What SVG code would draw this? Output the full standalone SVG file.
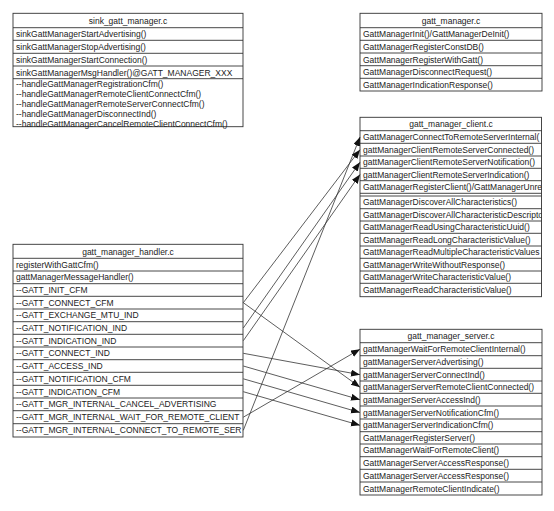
<svg xmlns="http://www.w3.org/2000/svg" width="554" height="511" viewBox="0 0 554 511">
<style>
.box{fill:#fff;stroke:#333;stroke-width:0.9}
.sep{stroke:#333;stroke-width:0.9}
text{font-family:"Liberation Sans",Arial,sans-serif;font-size:8.5px;fill:#222}
.t{text-anchor:middle}
.c{stroke:#333;stroke-width:0.8;fill:none;marker-end:url(#arr)}
</style>
<defs>
<marker id="arr" markerUnits="userSpaceOnUse" markerWidth="10" markerHeight="8" refX="9" refY="3.5" orient="auto">
<path d="M0,0 L9,3.5 L0,7 z" fill="#111"/>
</marker>
<clipPath id="clipClient"><rect x="360" y="117" width="181.5" height="180"/></clipPath>
<clipPath id="clipHandler"><rect x="13" y="244" width="229.5" height="193"/></clipPath>
</defs>
<rect width="554" height="511" fill="#fff"/>

<g id="sink_gatt_manager">
<rect class="box" x="13" y="13.3" width="230" height="113.4"/>
<line class="sep" x1="13" y1="27.7" x2="243" y2="27.7"/>
<line class="sep" x1="13" y1="40.3" x2="243" y2="40.3"/>
<line class="sep" x1="13" y1="53.3" x2="243" y2="53.3"/>
<line class="sep" x1="13" y1="66" x2="243" y2="66"/>
<line class="sep" x1="13" y1="78.7" x2="243" y2="78.7"/>
<text class="t" x="128" y="23.8">sink_gatt_manager.c</text>
<text x="16" y="37.2">sinkGattManagerStartAdvertising()</text>
<text x="16" y="50">sinkGattManagerStopAdvertising()</text>
<text x="16" y="62.8">sinkGattManagerStartConnection()</text>
<text x="16" y="75.5">sinkGattManagerMsgHandler()@GATT_MANAGER_XXX</text>
<text x="16" y="87">--handleGattManagerRegistrationCfm()</text>
<text x="16" y="97">--handleGattManagerRemoteClientConnectCfm()</text>
<text x="16" y="107">--handleGattManagerRemoteServerConnectCfm()</text>
<text x="16" y="117">--handleGattManagerDisconnectInd()</text>
<text x="16" y="127">--handleGattManagerCancelRemoteClientConnectCfm()</text>
</g>

<g id="gatt_manager">
<rect class="box" x="360" y="13.3" width="182" height="77.7"/>
<line class="sep" x1="360" y1="27.7" x2="542" y2="27.7"/>
<line class="sep" x1="360" y1="40.3" x2="542" y2="40.3"/>
<line class="sep" x1="360" y1="53" x2="542" y2="53"/>
<line class="sep" x1="360" y1="65.7" x2="542" y2="65.7"/>
<line class="sep" x1="360" y1="78.3" x2="542" y2="78.3"/>
<text class="t" x="451" y="23.8">gatt_manager.c</text>
<text x="363" y="37.2">GattManagerInit()/GattManagerDeInit()</text>
<text x="363" y="49.8">GattManagerRegisterConstDB()</text>
<text x="363" y="62.5">GattManagerRegisterWithGatt()</text>
<text x="363" y="75.1">GattManagerDisconnectRequest()</text>
<text x="363" y="87.8">GattManagerIndicationResponse()</text>
</g>

<g id="gatt_manager_client">
<rect class="box" x="360" y="117.3" width="181.5" height="179.4"/>
<line class="sep" x1="360" y1="130.7" x2="541.5" y2="130.7"/>
<line class="sep" x1="360" y1="143.3" x2="541.5" y2="143.3"/>
<line class="sep" x1="360" y1="156" x2="541.5" y2="156"/>
<line class="sep" x1="360" y1="168.3" x2="541.5" y2="168.3"/>
<line class="sep" x1="360" y1="180.7" x2="541.5" y2="180.7"/>
<line class="sep" x1="360" y1="193.3" x2="541.5" y2="193.3"/>
<line class="sep" x1="360" y1="196" x2="541.5" y2="196"/>
<line class="sep" x1="360" y1="208.7" x2="541.5" y2="208.7"/>
<line class="sep" x1="360" y1="221" x2="541.5" y2="221"/>
<line class="sep" x1="360" y1="233.3" x2="541.5" y2="233.3"/>
<line class="sep" x1="360" y1="246" x2="541.5" y2="246"/>
<line class="sep" x1="360" y1="258.3" x2="541.5" y2="258.3"/>
<line class="sep" x1="360" y1="271" x2="541.5" y2="271"/>
<line class="sep" x1="360" y1="283.3" x2="541.5" y2="283.3"/>
<g clip-path="url(#clipClient)">
<text class="t" x="451" y="127.3">gatt_manager_client.c</text>
<text x="363" y="140">GattManagerConnectToRemoteServerInternal(</text>
<text x="363" y="152.7">gattManagerClientRemoteServerConnected()</text>
<text x="363" y="165.2">gattManagerClientRemoteServerNotification()</text>
<text x="363" y="177.5">gattManagerClientRemoteServerIndication()</text>
<text x="363" y="190">GattManagerRegisterClient()/GattManagerUnre</text>
<text x="363" y="205.4">GattManagerDiscoverAllCharacteristics()</text>
<text x="363" y="217.9">GattManagerDiscoverAllCharacteristicDescripto</text>
<text x="363" y="230.2">GattManagerReadUsingCharacteristicUuid()</text>
<text x="363" y="242.7">GattManagerReadLongCharacteristicValue()</text>
<text x="363" y="255.2">GattManagerReadMultipleCharacteristicValues</text>
<text x="363" y="267.7">GattManagerWriteWithoutResponse()</text>
<text x="363" y="280.2">GattManagerWriteCharacteristicValue()</text>
<text x="363" y="293">GattManagerReadCharacteristicValue()</text>
</g>
</g>

<g id="gatt_manager_server">
<rect class="box" x="360" y="329.3" width="182" height="165.7"/>
<line class="sep" x1="360" y1="342.7" x2="542" y2="342.7"/>
<line class="sep" x1="360" y1="355.7" x2="542" y2="355.7"/>
<line class="sep" x1="360" y1="368.3" x2="542" y2="368.3"/>
<line class="sep" x1="360" y1="381" x2="542" y2="381"/>
<line class="sep" x1="360" y1="393.3" x2="542" y2="393.3"/>
<line class="sep" x1="360" y1="406" x2="542" y2="406"/>
<line class="sep" x1="360" y1="419" x2="542" y2="419"/>
<line class="sep" x1="360" y1="431.7" x2="542" y2="431.7"/>
<line class="sep" x1="360" y1="444" x2="542" y2="444"/>
<line class="sep" x1="360" y1="456.7" x2="542" y2="456.7"/>
<line class="sep" x1="360" y1="469.3" x2="542" y2="469.3"/>
<line class="sep" x1="360" y1="482" x2="542" y2="482"/>
<text class="t" x="451" y="339.2">gatt_manager_server.c</text>
<text x="363" y="352.2">gattManagerWaitForRemoteClientInternal()</text>
<text x="363" y="365">gattManagerServerAdvertising()</text>
<text x="363" y="377.7">gattManagerServerConnectInd()</text>
<text x="363" y="390.2">gattManagerServerRemoteClientConnected()</text>
<text x="363" y="402.7">gattManagerServerAccessInd()</text>
<text x="363" y="415.5">gattManagerServerNotificationCfm()</text>
<text x="363" y="428.3">gattManagerServerIndicationCfm()</text>
<text x="363" y="440.9">GattManagerRegisterServer()</text>
<text x="363" y="453.4">GattManagerWaitForRemoteClient()</text>
<text x="363" y="466">GattManagerServerAccessResponse()</text>
<text x="363" y="478.7">GattManagerServerAccessResponse()</text>
<text x="363" y="491.5">GattManagerRemoteClientIndicate()</text>
</g>

<g id="gatt_manager_handler">
<rect class="box" x="13" y="244.3" width="230" height="192.7"/>
<line class="sep" x1="13" y1="258.3" x2="243" y2="258.3"/>
<line class="sep" x1="13" y1="271" x2="243" y2="271"/>
<line class="sep" x1="13" y1="283.7" x2="243" y2="283.7"/>
<line class="sep" x1="13" y1="296.3" x2="243" y2="296.3"/>
<line class="sep" x1="13" y1="309" x2="243" y2="309"/>
<line class="sep" x1="13" y1="321.7" x2="243" y2="321.7"/>
<line class="sep" x1="13" y1="334.3" x2="243" y2="334.3"/>
<line class="sep" x1="13" y1="347" x2="243" y2="347"/>
<line class="sep" x1="13" y1="359.7" x2="243" y2="359.7"/>
<line class="sep" x1="13" y1="372.3" x2="243" y2="372.3"/>
<line class="sep" x1="13" y1="385.3" x2="243" y2="385.3"/>
<line class="sep" x1="13" y1="398" x2="243" y2="398"/>
<line class="sep" x1="13" y1="410.7" x2="243" y2="410.7"/>
<line class="sep" x1="13" y1="423.7" x2="243" y2="423.7"/>
<g clip-path="url(#clipHandler)">
<text class="t" x="128" y="254.5">gatt_manager_handler.c</text>
<text x="16" y="267.7">registerWithGattCfm()</text>
<text x="16" y="280.3">gattManagerMessageHandler()</text>
<text x="16" y="293">--GATT_INIT_CFM</text>
<text x="16" y="305.7">--GATT_CONNECT_CFM</text>
<text x="16" y="318.3">--GATT_EXCHANGE_MTU_IND</text>
<text x="16" y="331">--GATT_NOTIFICATION_IND</text>
<text x="16" y="343.7">--GATT_INDICATION_IND</text>
<text x="16" y="356.3">--GATT_CONNECT_IND</text>
<text x="16" y="369">--GATT_ACCESS_IND</text>
<text x="16" y="381.8">--GATT_NOTIFICATION_CFM</text>
<text x="16" y="394.7">--GATT_INDICATION_CFM</text>
<text x="16" y="407.3">--GATT_MGR_INTERNAL_CANCEL_ADVERTISING</text>
<text x="16" y="420.2">--GATT_MGR_INTERNAL_WAIT_FOR_REMOTE_CLIENT</text>
<text x="16" y="433.3">--GATT_MGR_INTERNAL_CONNECT_TO_REMOTE_SER</text>
</g>
</g>

<g id="connectors">
<line class="c" x1="243.3" y1="430.3" x2="360" y2="137"/>
<line class="c" x1="243.3" y1="302.7" x2="360" y2="149.7"/>
<line class="c" x1="243.3" y1="328" x2="360" y2="162.2"/>
<line class="c" x1="243.3" y1="340.7" x2="360" y2="174.5"/>
<line class="c" x1="243.3" y1="302.7" x2="360" y2="387.2"/>
<line class="c" x1="243.3" y1="353.3" x2="360" y2="374.7"/>
<line class="c" x1="243.3" y1="366" x2="360" y2="399.7"/>
<line class="c" x1="243.3" y1="378.8" x2="360" y2="412.5"/>
<line class="c" x1="243.3" y1="391.7" x2="360" y2="425.3"/>
<line class="c" x1="243.3" y1="417.2" x2="360" y2="349.2"/>
</g>
</svg>
